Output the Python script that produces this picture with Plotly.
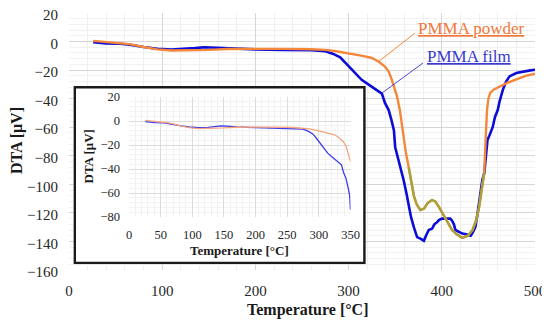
import plotly.graph_objects as go

# ---------------- data ----------------
powder_T = [26, 40, 55, 65, 80, 95, 110, 130, 150, 170, 200, 230, 260, 275, 285, 295, 305, 315,
            325, 332, 339, 343, 346.5, 350, 352, 355, 357, 359, 361.5, 364.5, 367, 370, 373, 377,
            381, 385, 389.5, 393, 397, 401, 405, 411, 416, 422, 428, 433, 437, 440, 443, 445.5,
            447, 448.5, 450, 452, 456, 462, 470, 480, 490, 500]
powder_V = [0.5, -0.3, -1.0, -1.8, -3.8, -5.5, -6.3, -6.2, -5.8, -5.2, -5.0, -5.1, -5.4, -5.8,
            -6.6, -7.6, -8.8, -10, -11.5, -14, -17.5, -21, -27, -34, -38.5, -48, -57, -67, -78,
            -88, -98, -108, -114, -118, -117, -113, -111, -112, -116, -121, -125, -132, -135,
            -137.5, -136, -132, -125, -116, -104, -92, -69, -48, -40, -36, -33.5, -31.5, -29,
            -26.5, -24, -22.5]

film_T = [26, 40, 55, 65, 80, 95, 110, 125, 135, 145, 155, 170, 200, 230, 260, 275, 283, 291,
          297, 303, 309, 314, 320, 326, 331, 335.7, 339, 343, 346, 348.6, 350, 353.7, 356, 359,
          362, 364.5, 367, 370, 373.5, 377, 380.8, 383, 386, 389.7, 392, 395, 397, 400, 404, 407,
          409, 411, 413, 414.6, 418, 422, 426, 431, 433, 436, 438, 440, 441.6, 443.5, 445.6, 447,
          449, 451, 454.6, 457, 460, 462, 465.4, 469, 472.6, 480, 487, 495, 501]
film_V = [-0.5, -1.3, -1.5, -2.2, -3.8, -5.0, -5.6, -5.3, -4.6, -4.0, -4.3, -5.0, -5.5, -5.8,
          -6.1, -6.8, -8.5, -11, -15, -19.5, -23, -26.8, -29.5, -32, -34, -36.5, -43, -48, -55,
          -62, -74, -83, -89, -97, -106, -116, -123, -130, -137, -138, -139.5, -136, -132, -131,
          -128, -126.5, -125, -124, -124, -123.5, -124, -125.5, -128, -132, -133, -134.5, -135,
          -136, -134, -130, -122, -113, -106, -97, -92, -80, -69, -66, -60, -53, -48, -42, -34,
          -28, -24.4, -22, -21, -20.2, -19.7]

main_x_ticks = [0, 100, 200, 300, 400, 500]
main_y_ticks = [20, 0, -20, -40, -60, -80, -100, -120, -140, -160]
inset_x_ticks = [0, 50, 100, 150, 200, 250, 300, 350]
inset_y_ticks = [20, 0, -20, -40, -60, -80]

series_names = ["PMMA powder", "PMMA film"]

# ---------------- style ----------------
OFF = 8                      # page body margin
W, H = 550 - OFF, 324 - OFF  # figure size so the page fits the window
FONT = "Times New Roman, Liberation Serif, serif"
ORANGE = "#f5873a"
OLIVE = "#a9a23c"
BLUE = "#0c0cd8"
IN_ORANGE = "#f6a27c"
IN_BLUE = "#3c3ce6"
OLIVE_RANGE = (364, 446)
INSET_MAX = 350


def px(x):
    # page pixel x -> paper fraction
    return (x - OFF) / W


def py(y):
    # page pixel y -> paper fraction
    return 1 - (y - OFF) / H


fig = go.Figure()

# main traces
fig.add_trace(go.Scatter(x=film_T, y=film_V, mode="lines", name=series_names[1],
                         line=dict(color=BLUE, width=2.6), xaxis="x", yaxis="y"))
fig.add_trace(go.Scatter(x=powder_T, y=powder_V, mode="lines", name=series_names[0],
                         line=dict(color=ORANGE, width=2.4), xaxis="x", yaxis="y"))
ol = [(t, v) for t, v in zip(powder_T, powder_V) if OLIVE_RANGE[0] <= t <= OLIVE_RANGE[1]]
fig.add_trace(go.Scatter(x=[p[0] for p in ol], y=[p[1] for p in ol], mode="lines",
                         line=dict(color=OLIVE, width=2.4), xaxis="x", yaxis="y"))

# holder subplot for the inset frame
fig.add_trace(go.Scatter(x=[], y=[], xaxis="x2", yaxis="y2", mode="lines"))

# inset traces
pi = [(t, v) for t, v in zip(powder_T, powder_V) if t <= INSET_MAX]
fi = [(t, v) for t, v in zip(film_T, film_V) if t <= INSET_MAX]
fig.add_trace(go.Scatter(x=[p[0] for p in fi], y=[p[1] for p in fi], mode="lines",
                         line=dict(color=IN_BLUE, width=1.3), xaxis="x3", yaxis="y3"))
fig.add_trace(go.Scatter(x=[p[0] for p in pi], y=[p[1] for p in pi], mode="lines",
                         line=dict(color=IN_ORANGE, width=1.3), xaxis="x3", yaxis="y3"))

tickfont_main = dict(family=FONT, size=15, color="#262626")
tickfont_in = dict(family=FONT, size=12.5, color="#262626")

# inset frame (page pixels): centre of border line and its width
fx0, fx1, fy0, fy1, LW = 74.7, 364.5, 87.3, 263, 2.6
bx0, bx1, by0, by1 = fx0 - LW / 2, fx1 + LW / 2, fy0 - LW / 2, fy1 + LW / 2

common = dict(automargin=False, zeroline=False, showline=False, ticks="")

fig.update_layout(
    template="none",
    width=W, height=H,
    margin=dict(l=0, r=0, t=0, b=0, autoexpand=False),
    paper_bgcolor="white", plot_bgcolor="white",
    showlegend=False,
    xaxis=dict(domain=[px(69), px(535)], range=[0, 500], tickvals=main_x_ticks,
               showgrid=True, gridcolor="#d6d6d6", gridwidth=1,
               tickfont=tickfont_main, ticklabelstandoff=10, ticklabeloverflow="allow",
               minor=dict(dtick=20, showgrid=True, gridcolor="#efefef", gridwidth=1),
               anchor="y", **common),
    yaxis=dict(domain=[py(270), py(13)], range=[-160, 20], tickvals=main_y_ticks,
               showgrid=True, gridcolor="#d6d6d6", gridwidth=1,
               tickfont=tickfont_main, ticklabelstandoff=10, ticklabeloverflow="allow",
               ticklabelshift=2,
               minor=dict(dtick=4, showgrid=True, gridcolor="#f1f1f1", gridwidth=1),
               anchor="x", **common),
    xaxis2=dict(domain=[px(bx0), px(bx1)], range=[bx0, bx1], visible=False,
                showgrid=False, anchor="y2", fixedrange=True, **common),
    yaxis2=dict(domain=[py(by1), py(by0)], range=[-by1, -by0], visible=False,
                showgrid=False, anchor="x2", fixedrange=True, **common),
    xaxis3=dict(domain=[px(129), px(350.5)], range=[0, 350], tickvals=inset_x_ticks,
                showgrid=True, gridcolor="#dcdcdc", gridwidth=1,
                tickfont=tickfont_in, ticklabelstandoff=8,
                minor=dict(dtick=10, showgrid=True, gridcolor="#f1f1f1", gridwidth=1),
                anchor="y3", **common),
    yaxis3=dict(domain=[py(217), py(97)], range=[-80, 20], tickvals=inset_y_ticks,
                showgrid=True, gridcolor="#dcdcdc", gridwidth=1,
                tickfont=tickfont_in, ticklabelstandoff=8,
                minor=dict(dtick=4, showgrid=True, gridcolor="#f3f3f3", gridwidth=1),
                anchor="x3", **common),
)

# inset frame (drawn in holder subplot so it covers main grid but stays under inset grid)
fig.add_shape(type="rect", xref="x2", yref="y2", x0=fx0, x1=fx1, y0=-fy1, y1=-fy0,
              fillcolor="white", line=dict(color="#1a1a1a", width=LW), layer="below")

# leader lines
fig.add_shape(type="line", xref="paper", yref="paper", x0=px(415), y0=py(33), x1=px(378), y1=py(62),
              line=dict(color=ORANGE, width=1), layer="above")
fig.add_shape(type="line", xref="paper", yref="paper", x0=px(423), y0=py(63), x1=px(382), y1=py(93),
              line=dict(color="#4a4ad6", width=1), layer="above")

ann = [
    dict(text="<u>PMMA powder</u>", x=px(416), y=py(28), xanchor="left", yanchor="middle",
         font=dict(family=FONT, size=17, color="#f0773a")),
    dict(text="<u>PMMA film</u>", x=px(425), y=py(56), xanchor="left", yanchor="middle",
         font=dict(family=FONT, size=17, color="#3a3ad0")),
    dict(text="<b>Temperature [°C]</b>", x=px(307), y=py(310), xanchor="center", yanchor="middle",
         font=dict(family=FONT, size=16, color="#1a1a1a")),
    dict(text="<b>DTA [μV]</b>", x=px(17), y=py(141), xanchor="center", yanchor="middle",
         textangle=-90, font=dict(family=FONT, size=16, color="#1a1a1a")),
    dict(text="<b>Temperature [°C]</b>", x=px(239), y=py(250), xanchor="center", yanchor="middle",
         font=dict(family=FONT, size=13, color="#1a1a1a")),
    dict(text="<b>DTA [μV]</b>", x=px(87.5), y=py(157), xanchor="center", yanchor="middle",
         textangle=-90, font=dict(family=FONT, size=13, color="#1a1a1a")),
]
for a in ann:
    fig.add_annotation(xref="paper", yref="paper", showarrow=False, **a)

fig.write_html("out.html")
